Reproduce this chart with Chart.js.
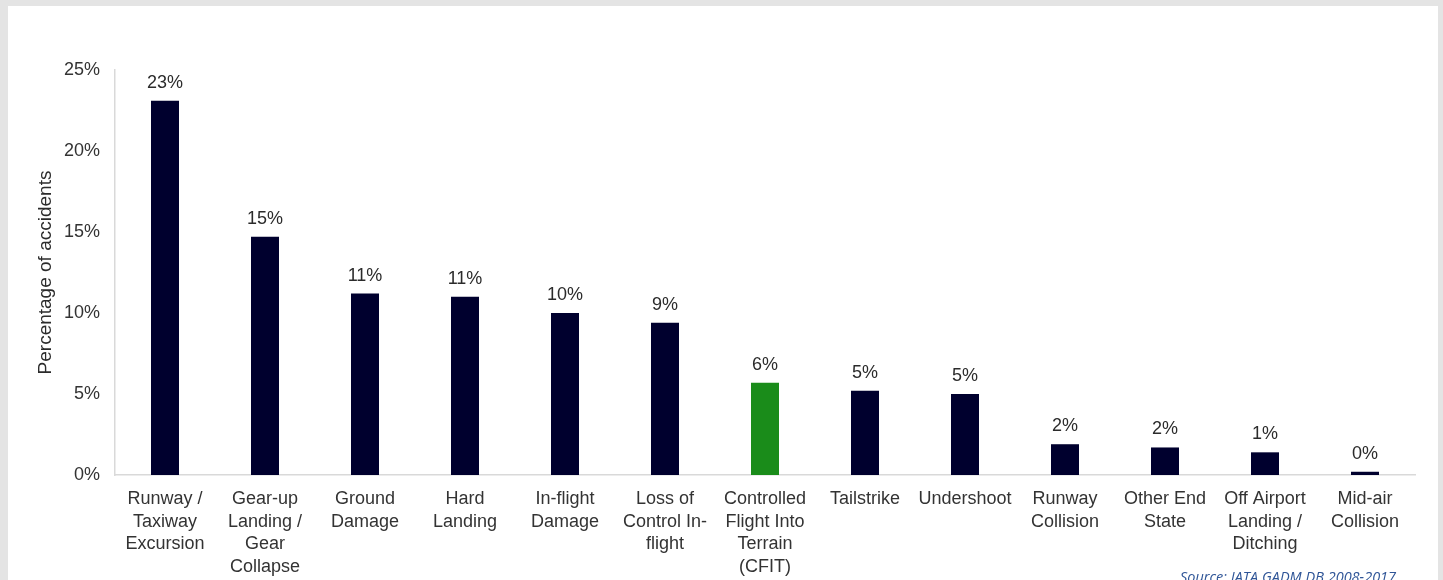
<!DOCTYPE html>
<html>
<head>
<meta charset="utf-8">
<script src="https://cdn.jsdelivr.net/npm/chart.js@4/dist/chart.umd.min.js"></script>
<style>
  html, body { margin: 0; padding: 0; }
  body { width: 1443px; height: 580px; background: #e4e4e4; position: relative; overflow: hidden; }
  #panel { position: absolute; left: 8px; top: 6px; width: 1430px; height: 580px; background: #fff; }
  #wrap { position: absolute; left: 0; top: 0; width: 1443px; height: 580px; }
  #source {
    position: absolute; left: 1180px; top: 567px;
    font: italic 14.5px "Open Sans", sans-serif; color: #2f5597; white-space: nowrap;
  }
</style>
</head>
<body>
<div id="panel"></div>
<div id="wrap"><canvas id="accidentChart"></canvas></div>
<div id="source">Source: IATA GADM DB 2008-2017</div>

<script>
const categories = [
  ['Runway /', 'Taxiway', 'Excursion'],
  ['Gear-up', 'Landing /', 'Gear', 'Collapse'],
  ['Ground', 'Damage'],
  ['Hard', 'Landing'],
  ['In-flight', 'Damage'],
  ['Loss of', 'Control In-', 'flight'],
  ['Controlled', 'Flight Into', 'Terrain', '(CFIT)'],
  ['Tailstrike'],
  ['Undershoot'],
  ['Runway', 'Collision'],
  ['Other End', 'State'],
  ['Off Airport', 'Landing /', 'Ditching'],
  ['Mid-air', 'Collision']
];

// percentage of accidents
const percentages = [23.1, 14.7, 11.2, 11.0, 10.0, 9.4, 5.7, 5.2, 5.0, 1.9, 1.7, 1.4, 0.2];

const yTicks = [0, 5, 10, 15, 20, 25];

const navy = '#00002e';
const green = '#1a8c1a';
const barColors = categories.map((c, i) => i === 6 ? green : navy);

const textColor = '#333333';
const axisColor = '#d9d9d9';

// value labels above the bars
const barLabels = {
  id: 'barLabels',
  afterDatasetsDraw(chart) {
    const ctx = chart.ctx;
    const meta = chart.getDatasetMeta(0);
    ctx.save();
    ctx.font = '18px "Liberation Sans", Arial, sans-serif';
    ctx.fillStyle = '#2b2b2b';
    ctx.textAlign = 'center';
    ctx.textBaseline = 'alphabetic';
    meta.data.forEach((bar, i) => {
      ctx.fillText(Math.round(percentages[i]) + '%', bar.x, bar.y - 13);
    });
    ctx.restore();
  }
};

const ctx = document.getElementById('accidentChart').getContext('2d');
window.accidentChart = new Chart(ctx, {
  type: 'bar',
  data: {
    labels: categories,
    datasets: [{
      data: percentages,
      backgroundColor: barColors,
      barPercentage: 0.28,
      categoryPercentage: 1.0
    }]
  },
  options: {
    responsive: true,
    maintainAspectRatio: false,
    animation: false,
    layout: {
      padding: { top: 70, right: 28, bottom: 0, left: 0 }
    },
    plugins: {
      legend: { display: false },
      tooltip: { enabled: false }
    },
    scales: {
      x: {
        grid: { display: false, drawTicks: false },
        border: { color: axisColor, width: 1.5 },
        ticks: {
          color: textColor,
          font: { family: '"Liberation Sans", Arial, sans-serif', size: 18, lineHeight: 1.25 },
          padding: 13,
          autoSkip: false,
          maxRotation: 0
        },
        afterFit: s => { s.height = 105; }
      },
      y: {
        min: 0,
        max: 25,
        afterBuildTicks: s => { s.ticks = yTicks.map(v => ({ value: v })); },
        grid: { display: false, drawTicks: false },
        border: { color: axisColor, width: 1.5 },
        ticks: {
          color: textColor,
          font: { family: '"Liberation Sans", Arial, sans-serif', size: 18 },
          padding: 15,
          callback: v => v + '%'
        },
        title: {
          display: true,
          text: 'Percentage of accidents',
          color: '#2b2b2b',
          font: { family: '"Liberation Sans", Arial, sans-serif', size: 19 },
          padding: { top: 34 }
        },
        afterFit: s => { s.width = 115; }
      }
    }
  },
  plugins: [barLabels]
});
</script>
</body>
</html>
